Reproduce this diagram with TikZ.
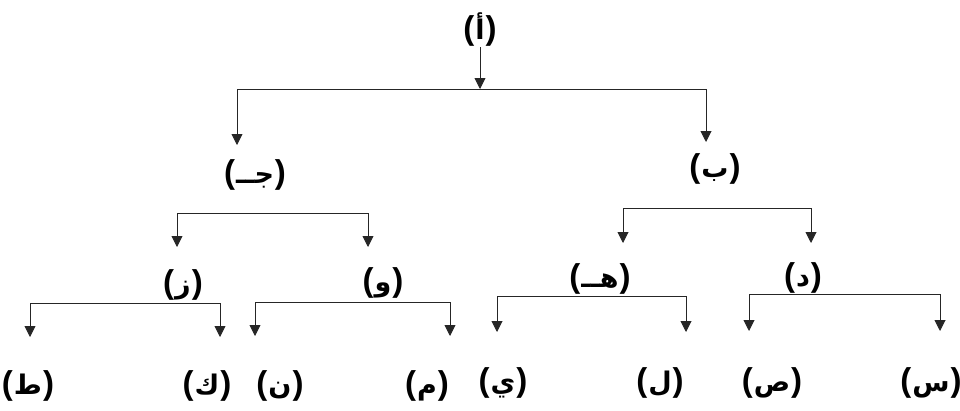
\documentclass[tikz,border=0pt]{standalone}
\usepackage{fontspec}
\setmainfont{Liberation Sans}
\newfontfamily\ar[Script=Arabic]{DejaVu Sans}
\usetikzlibrary{arrows.meta}
\tikzset{
  lbl/.style={inner sep=0pt, font=\fontsize{33}{36}\selectfont\bfseries},
  ln/.style={line width=0.9pt, draw=black!85},
  arr/.style={ln, -{Triangle[width=11pt,length=11pt]}},
}
\newcommand{\lab}[1]{(\kern1pt{\ar\fontsize{27}{30}\selectfont\bfseries #1}\kern1pt)}
\begin{document}
\begin{tikzpicture}[x=1pt,y=-1pt]
\useasboundingbox (0,0) rectangle (960,410);
% labels
\node[lbl] (a) at (480,30) {\lab{أ}};
\node[lbl] (j) at (255,175) {\lab{جــ}};
\node[lbl] (b) at (715,169) {\lab{ب}};
\node[lbl] (z) at (183,285) {\lab{ز}};
\node[lbl] (w) at (383,283) {\lab{و}};
\node[lbl] (h) at (600,279) {\lab{هــ}};
\node[lbl] (d) at (803,278) {\lab{د}};
\node[lbl] (t) at (28,386) {\lab{ط}};
\node[lbl] (k) at (207,386) {\lab{ك}};
\node[lbl] (n) at (280,386) {\lab{ن}};
\node[lbl] (m) at (427,386) {\lab{م}};
\node[lbl] (y) at (503,383) {\lab{ي}};
\node[lbl] (l) at (660,383) {\lab{ل}};
\node[lbl] (s) at (772,383) {\lab{ص}};
\node[lbl] (sn) at (931,383) {\lab{س}};
% junctions
\coordinate (aJ) at (480,89);
\coordinate (aL) at (237,89);
\coordinate (aR) at (706,89);
\coordinate (tj) at (237,145);
\coordinate (tb) at (706,142);
\coordinate (jL) at (177,213);
\coordinate (jR) at (368,213);
\coordinate (tz) at (177,247);
\coordinate (tw) at (368,247);
\coordinate (bL) at (623,208);
\coordinate (bR) at (811,208);
\coordinate (th) at (623,243);
\coordinate (td) at (811,243);
\coordinate (zL) at (30,303);
\coordinate (zR) at (220,303);
\coordinate (tt) at (30,337);
\coordinate (tk) at (220,337);
\coordinate (wL) at (255,302);
\coordinate (wR) at (450,302);
\coordinate (tn) at (255,336);
\coordinate (tm) at (450,336);
\coordinate (hL) at (497,296);
\coordinate (hR) at (686,296);
\coordinate (ty) at (497,332);
\coordinate (tl) at (686,332);
\coordinate (dL) at (749,294);
\coordinate (dR) at (940,294);
\coordinate (ts) at (749,331);
\coordinate (tsn) at (940,331);
% connectors
\draw[arr] (a.south) -- (aJ);
\draw[ln] (aL) -- (aR);
\draw[arr] (aL) -- (tj);
\draw[arr] (aR) -- (tb);
\draw[ln] (jL) -- (jR);
\draw[arr] (jL) -- (tz);
\draw[arr] (jR) -- (tw);
\draw[ln] (bL) -- (bR);
\draw[arr] (bL) -- (th);
\draw[arr] (bR) -- (td);
\draw[ln] (zL) -- (zR);
\draw[arr] (zL) -- (tt);
\draw[arr] (zR) -- (tk);
\draw[ln] (wL) -- (wR);
\draw[arr] (wL) -- (tn);
\draw[arr] (wR) -- (tm);
\draw[ln] (hL) -- (hR);
\draw[arr] (hL) -- (ty);
\draw[arr] (hR) -- (tl);
\draw[ln] (dL) -- (dR);
\draw[arr] (dL) -- (ts);
\draw[arr] (dR) -- (tsn);
\end{tikzpicture}
\end{document}
